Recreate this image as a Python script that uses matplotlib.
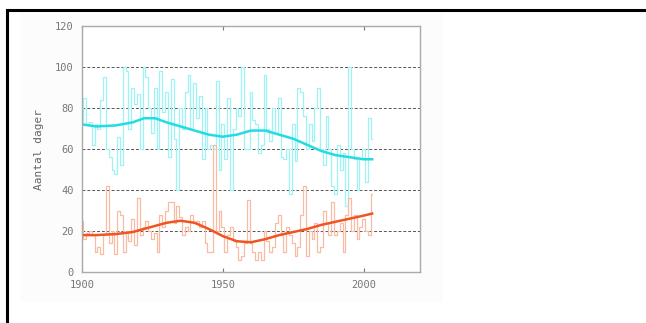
import matplotlib.pyplot as plt
from matplotlib.patches import Rectangle
import numpy as np

# yearly counts, 1900-2003
years = list(range(1900, 2004))
cold_days = [72, 85, 72, 73, 62, 72, 70, 84, 95, 60,
             56, 50, 48, 66, 52, 100, 98, 70, 90, 82,
             87, 60, 100, 95, 80, 68, 90, 60, 98, 78,
             88, 56, 94, 65, 40, 80, 70, 88, 96, 70,
             92, 75, 86, 55, 80, 60, 62, 60, 93, 50,
             72, 55, 85, 40, 70, 80, 76, 100, 60, 60,
             88, 74, 72, 58, 62, 96, 70, 64, 80, 68,
             85, 56, 55, 60, 38, 72, 54, 90, 88, 76,
             60, 72, 64, 80, 90, 60, 52, 76, 60, 42,
             38, 62, 50, 58, 32, 100, 60, 55, 40, 55,
             60, 44, 75, 65]
warm_days = [25, 16, 19, 20, 18, 10, 12, 9, 18, 42,
             14, 20, 9, 30, 28, 10, 20, 15, 26, 13,
             36, 18, 22, 25, 20, 16, 19, 10, 28, 22,
             30, 34, 34, 24, 32, 27, 18, 22, 20, 28,
             24, 25, 22, 25, 14, 10, 10, 62, 20, 30,
             22, 10, 18, 22, 15, 12, 6, 8, 14, 35,
             14, 10, 6, 10, 6, 20, 15, 10, 12, 24,
             28, 18, 10, 22, 18, 14, 8, 12, 28, 42,
             8, 20, 16, 24, 10, 12, 30, 24, 18, 34,
             18, 20, 24, 10, 28, 36, 20, 28, 16, 22,
             26, 20, 18, 38]

trend_years = [1900, 1905, 1912, 1918, 1922, 1926, 1930, 1935, 1940, 1945,
               1950, 1955, 1960, 1965, 1970, 1975, 1980, 1985, 1990, 1995,
               2000, 2003]
cold_trend = [72, 71, 71.5, 73, 75, 75, 73, 71, 69, 67,
              66, 67, 69, 69, 67, 65, 62, 59, 57, 56,
              55, 55]
warm_trend = [18, 18, 18.5, 19.5, 21, 22.5, 24, 25, 24, 21,
              17.5, 15, 14.5, 16, 18, 19.5, 21, 23, 24.5, 26,
              27.5, 28.5]

fig = plt.figure(figsize=(6.46, 3.23), dpi=100)

# page frame and faint image background
fig.add_artist(Rectangle((20 / 646, 1 - 302 / 323), 423 / 646, 288 / 323,
                         transform=fig.transFigure, facecolor='#fcfcfc',
                         edgecolor='none', zorder=0))
fig.add_artist(plt.Line2D([7 / 646, 1], [1 - 10 / 323, 1 - 10 / 323],
                          transform=fig.transFigure, color='black', lw=2.2))
fig.add_artist(plt.Line2D([7 / 646, 7 / 646], [0, 1 - 10 / 323],
                          transform=fig.transFigure, color='black', lw=2.2))

ax = fig.add_axes([82 / 646, 1 - 272 / 323, 338 / 646, 246 / 323])
ax.set_facecolor('white')

ax.step(years, cold_days, where='mid', color='#9ff3f4', lw=0.9)
ax.step(years, warm_days, where='mid', color='#f8bca4', lw=0.9)
ax.plot(trend_years, cold_trend, color='#25dbe2', lw=1.8)
ax.plot(trend_years, warm_trend, color='#ee5522', lw=1.8)

ax.set_xlim(1900, 2020)
ax.set_ylim(0, 120)
ax.set_xticks([1900, 1950, 2000])
ax.set_yticks([0, 20, 40, 60, 80, 100, 120])
ax.tick_params(axis='both', direction='in', length=3, color='#777777',
               labelsize=7.5, labelcolor='#777777', top=True, pad=6)
ax.tick_params(axis='y', length=0)
for lbl in ax.get_xticklabels() + ax.get_yticklabels():
    lbl.set_family('DejaVu Sans Mono')

for y in [20, 40, 60, 80, 100]:
    ax.axhline(y, color='#555555', lw=0.7, ls=(0, (3, 2)), zorder=0)

for s in ax.spines.values():
    s.set_color('#aaaaaa')
    s.set_linewidth(1.0)

ax.set_ylabel('Aantal dager', fontsize=8, color='#666666',
              family='DejaVu Sans Mono', labelpad=8)

fig.savefig('out.png', dpi=100)
